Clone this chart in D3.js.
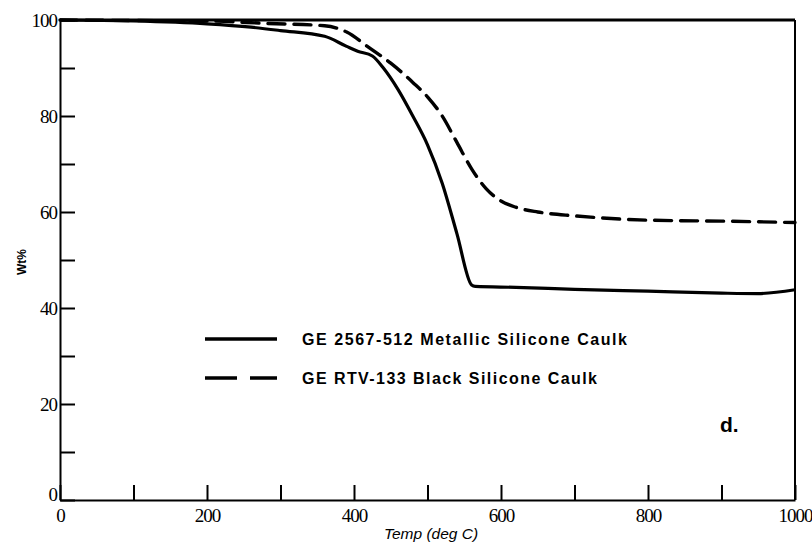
<!DOCTYPE html>
<html>
<head>
<meta charset="utf-8">
<script src="https://cdn.jsdelivr.net/npm/d3@7"></script>
<style>
  body { margin: 0; background: #fff; }
  svg { display: block; }
</style>
</head>
<body>
<svg id="chart" width="812" height="547"></svg>
<script>
// Thermogravimetric curves of two silicone caulks
const metallicTemp = [0, 100, 200, 260, 300, 360, 390, 405, 425, 440, 460, 480, 500, 520, 540, 560, 565, 620, 700, 800, 900, 950, 1000];
const metallicWt   = [100, 99.8, 99.2, 98.5, 97.8, 96.6, 94.5, 93.5, 92.5, 90, 85.5, 80, 74, 66, 55.5, 44.8, 44.5, 44.3, 43.9, 43.5, 43.1, 43.0, 43.8];

const blackTemp = [0, 100, 200, 280, 360, 390, 420, 450, 480, 500, 520, 540, 560, 580, 600, 620, 650, 700, 800, 900, 1000];
const blackWt   = [100, 99.9, 99.8, 99.3, 98.8, 97.5, 94.3, 91, 87, 84, 80, 74.5, 69, 64.8, 62.3, 61, 60, 59.2, 58.3, 58.1, 57.8];

const seriesNames = ["GE 2567-512 Metallic Silicone Caulk", "GE RTV-133 Black Silicone Caulk"];

const xTickValues = [0, 100, 200, 300, 400, 500, 600, 700, 800, 900, 1000];
const xTickLabels = ["0", "", "200", "", "400", "", "600", "", "800", "", "1000"];
const yTickValues = [0, 10, 20, 30, 40, 50, 60, 70, 80, 90, 100];
const yTickLabels = ["0", "", "20", "", "40", "", "60", "", "80", "", "100"];

const svg = d3.select("#chart");
const plotLeft = 60, plotRight = 795, plotTop = 20, plotBottom = 500;

const x = d3.scaleLinear().domain([0, 1000]).range([plotLeft, plotRight]);
const y = d3.scaleLinear().domain([0, 100]).range([plotBottom, plotTop]);

const ink = "#000";
const tickFont = "'Liberation Serif', 'DejaVu Serif', serif";
const sansFont = "'Liberation Sans', Arial, sans-serif";

// frame
svg.append("line").attr("x1", plotLeft).attr("x2", plotRight).attr("y1", plotTop).attr("y2", plotTop)
  .attr("stroke", ink).attr("stroke-width", 3);
svg.append("line").attr("x1", plotRight).attr("x2", plotRight).attr("y1", plotTop).attr("y2", plotBottom)
  .attr("stroke", ink).attr("stroke-width", 2);

// bottom axis with inward ticks
const xAxis = d3.axisBottom(x).tickValues(xTickValues).tickSize(-15).tickSizeOuter(0)
  .tickFormat((d, i) => xTickLabels[i]);
const gx = svg.append("g").attr("transform", `translate(0,${plotBottom})`).call(xAxis);
gx.select(".domain").attr("stroke", ink).attr("stroke-width", 2);
gx.selectAll(".tick line").attr("stroke", ink).attr("stroke-width", 2);
gx.selectAll(".tick text").attr("y", 6).attr("dy", "0.85em")
  .attr("font-family", tickFont).attr("font-size", 19).attr("letter-spacing", -1)
  .attr("fill", ink);

// left axis with inward ticks
const yAxis = d3.axisLeft(y).tickValues(yTickValues).tickSize(-15).tickSizeOuter(0)
  .tickFormat((d, i) => yTickLabels[i]);
const gy = svg.append("g").attr("transform", `translate(${plotLeft},0)`).call(yAxis);
gy.select(".domain").attr("stroke", ink).attr("stroke-width", 2);
gy.selectAll(".tick line").attr("stroke", ink).attr("stroke-width", 2);
gy.selectAll(".tick text").attr("x", -3)
  .attr("font-family", tickFont).attr("font-size", 19).attr("letter-spacing", -1)
  .attr("fill", ink);
gy.selectAll(".tick").filter(d => d === 0).select("text").attr("dy", "0.05em");

// axis titles
svg.append("text").attr("transform", "translate(26,262) rotate(-90)")
  .attr("text-anchor", "middle").attr("font-family", sansFont).attr("font-weight", "bold")
  .attr("font-size", 12).attr("fill", ink).text("Wt%");
svg.append("text").attr("x", 431).attr("y", 539).attr("text-anchor", "middle")
  .attr("font-family", sansFont).attr("font-style", "italic")
  .attr("font-size", 15.5).attr("fill", ink).text("Temp (deg C)");

// curves
const line = d3.line().x(d => x(d[0])).y(d => y(d[1])).curve(d3.curveMonotoneX);
const metallic = metallicTemp.map((t, i) => [t, metallicWt[i]]);
const black = blackTemp.map((t, i) => [t, blackWt[i]]);

svg.append("path").datum(metallic).attr("d", line)
  .attr("fill", "none").attr("stroke", ink).attr("stroke-width", 3.2).attr("stroke-linejoin", "round");
svg.append("path").datum(black).attr("d", line)
  .attr("fill", "none").attr("stroke", ink).attr("stroke-width", 3.4)
  .attr("stroke-dasharray", "17,9").attr("stroke-linecap", "round");

// legend
const legend = svg.append("g");
legend.append("line").attr("x1", 205).attr("x2", 277).attr("y1", 339).attr("y2", 339)
  .attr("stroke", ink).attr("stroke-width", 3.5);
legend.append("line").attr("x1", 205).attr("x2", 277).attr("y1", 378).attr("y2", 378)
  .attr("stroke", ink).attr("stroke-width", 3.5).attr("stroke-dasharray", "32,13");
legend.selectAll("text.name").data(seriesNames).join("text").attr("class", "name")
  .attr("x", 302).attr("y", (d, i) => 345 + i * 39)
  .attr("font-family", sansFont).attr("font-weight", "bold").attr("font-size", 16)
  .attr("textLength", (d, i) => i === 0 ? 325 : 295).attr("lengthAdjust", "spacing")
  .attr("fill", ink).text(d => d);

// panel tag
svg.append("text").attr("x", 720).attr("y", 432).attr("font-family", sansFont)
  .attr("font-weight", "bold").attr("font-size", 21).attr("fill", ink).text("d.");
</script>
</body>
</html>
